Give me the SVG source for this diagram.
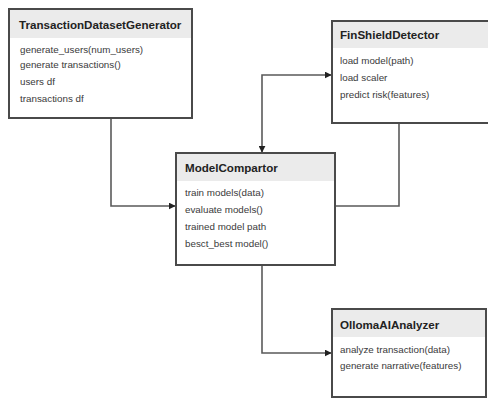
<svg xmlns="http://www.w3.org/2000/svg" width="488" height="399" viewBox="0 0 488 399">
<style>
.box{fill:#fff;stroke:#4a4a4a;stroke-width:2}
.hdr{fill:#ebebeb}
.title{font-family:"Liberation Sans",Arial,sans-serif;font-size:11.6px;font-weight:bold;fill:#222}
.item{font-family:"Liberation Sans",Arial,sans-serif;font-size:9.8px;fill:#3a3a3a}
.conn{fill:none;stroke:#5a5a5a;stroke-width:1.6}
</style>
<defs>
<marker id="arr" viewBox="0 0 10 10" refX="9" refY="5" markerWidth="7" markerHeight="7" markerUnits="userSpaceOnUse" orient="auto-start-reverse">
<path d="M0,0 L10,5 L0,10 z" fill="#222"/>
</marker>
</defs>
<rect width="488" height="399" fill="#fff"/>
<g id="connectors">
<path class="conn" d="M111,118 V206 H175" marker-end="url(#arr)"/>
<path class="conn" d="M262,265 V353 H331" marker-end="url(#arr)"/>
<path class="conn" d="M262,152 V75 H331" marker-start="url(#arr)" marker-end="url(#arr)"/>
<path class="conn" d="M399,123 V206 H335"/>
</g>
<g id="TransactionDatasetGenerator">
<rect class="box" x="9" y="9" width="183" height="109"/>
<rect class="hdr" x="10" y="10" width="181" height="28"/>
<text class="title" x="19" y="29">TransactionDatasetGenerator</text>
<text class="item" x="20" y="53">generate_users(num_users)</text>
<text class="item" x="20" y="68">generate transactions()</text>
<text class="item" x="20" y="85">users df</text>
<text class="item" x="20" y="102">transactions df</text>
</g>
<g id="FinShieldDetector">
<rect class="box" x="332" y="21" width="160" height="102"/>
<rect class="hdr" x="333" y="22" width="158" height="26"/>
<text class="title" x="340" y="39">FinShieldDetector</text>
<text class="item" x="340" y="64">load model(path)</text>
<text class="item" x="340" y="81">load scaler</text>
<text class="item" x="340" y="98">predict risk(features)</text>
</g>
<g id="ModelCompartor">
<rect class="box" x="176" y="153" width="159" height="112"/>
<rect class="hdr" x="177" y="154" width="157" height="27"/>
<text class="title" x="185" y="172">ModelCompartor</text>
<text class="item" x="185" y="196">train models(data)</text>
<text class="item" x="185" y="213">evaluate models()</text>
<text class="item" x="185" y="230">trained model path</text>
<text class="item" x="185" y="247">besct_best model()</text>
</g>
<g id="OllomaAIAnalyzer">
<rect class="box" x="332" y="309" width="154" height="88"/>
<rect class="hdr" x="333" y="310" width="152" height="27"/>
<text class="title" x="340" y="329">OllomaAIAnalyzer</text>
<text class="item" x="340" y="353">analyze transaction(data)</text>
<text class="item" x="340" y="369">generate narrative(features)</text>
</g>
</svg>
